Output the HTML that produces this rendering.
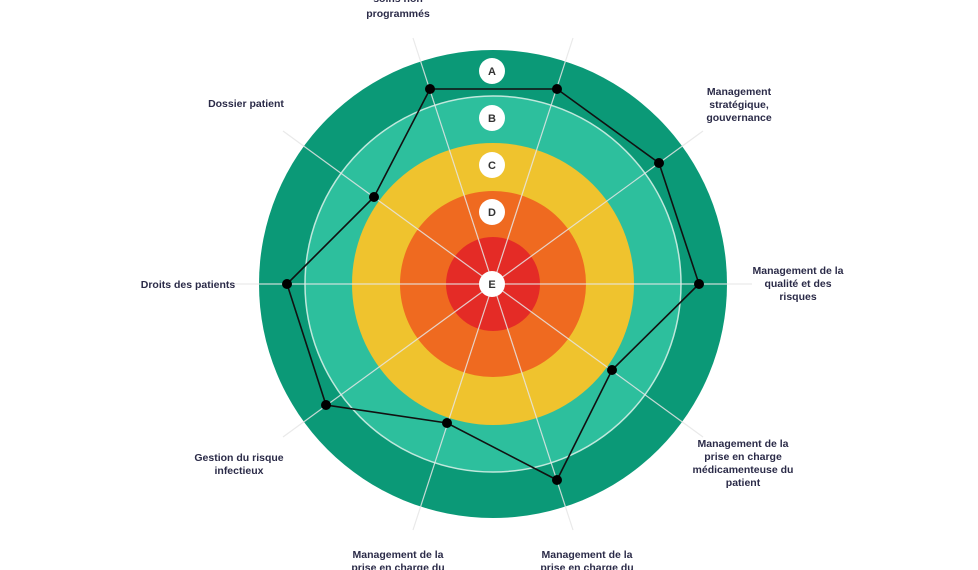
<!DOCTYPE html>
<html><head><meta charset="utf-8"><style>
body{margin:0;background:#fff}
svg{display:block}
text{font-family:"Liberation Sans",sans-serif;font-size:10.5px;fill:#2b2b48;font-weight:bold}
.l{font-size:11px;fill:#333}
</style></head><body>
<svg width="978" height="570" viewBox="0 0 978 570">
<circle cx="493" cy="284" r="234" fill="#0b9977"/>
<circle cx="493" cy="284" r="188" fill="#2dbf9d" stroke="#bfe8dc" stroke-width="1.5"/>
<circle cx="493" cy="284" r="141" fill="#efc32e"/>
<circle cx="493" cy="284" r="93" fill="#ef6a20"/>
<circle cx="493" cy="284" r="47" fill="#e42b26"/>
<g stroke="#e6e6e6" stroke-width="1.2" opacity="0.85">
<line x1="493" y1="284" x2="413" y2="38"/>
<line x1="493" y1="284" x2="573" y2="38"/>
<line x1="493" y1="284" x2="703" y2="131"/>
<line x1="493" y1="284" x2="752" y2="284"/>
<line x1="493" y1="284" x2="703" y2="437"/>
<line x1="493" y1="284" x2="573" y2="530"/>
<line x1="493" y1="284" x2="413" y2="530"/>
<line x1="493" y1="284" x2="283" y2="437"/>
<line x1="493" y1="284" x2="234" y2="284"/>
<line x1="493" y1="284" x2="283" y2="131"/>
</g>
<polygon points="430,89 557,89 659,163 699,284 612,370 557,480 447,423 326,405 287,284 374,197" fill="none" stroke="#111" stroke-width="1.6"/>
<g fill="#000">
<circle cx="430" cy="89" r="5"/><circle cx="557" cy="89" r="5"/><circle cx="659" cy="163" r="5"/><circle cx="699" cy="284" r="5"/><circle cx="612" cy="370" r="5"/><circle cx="557" cy="480" r="5"/><circle cx="447" cy="423" r="5"/><circle cx="326" cy="405" r="5"/><circle cx="287" cy="284" r="5"/><circle cx="374" cy="197" r="5"/>
</g>
<g fill="#fff">
<circle cx="492" cy="71" r="13"/><circle cx="492" cy="118" r="13"/><circle cx="492" cy="165" r="13"/><circle cx="492" cy="212" r="13"/><circle cx="492" cy="284" r="13"/>
</g>
<g text-anchor="middle">
<text class="l" x="492" y="75">A</text><text class="l" x="492" y="122">B</text><text class="l" x="492" y="169">C</text><text class="l" x="492" y="216">D</text><text class="l" x="492" y="288">E</text>
<text x="398" y="2">soins non</text><text x="398" y="17">programmés</text>
<text x="246" y="107">Dossier patient</text>
<text x="739" y="95">Management</text><text x="739" y="108">stratégique,</text><text x="739" y="121">gouvernance</text>
<text x="798" y="274">Management de la</text><text x="798" y="287">qualité et des</text><text x="798" y="300">risques</text>
<text x="188" y="288">Droits des patients</text>
<text x="743" y="447">Management de la</text><text x="743" y="460">prise en charge</text><text x="743" y="473">médicamenteuse du</text><text x="743" y="486">patient</text>
<text x="239" y="461">Gestion du risque</text><text x="239" y="474">infectieux</text>
<text x="398" y="558">Management de la</text><text x="398" y="571">prise en charge du</text>
<text x="587" y="558">Management de la</text><text x="587" y="571">prise en charge du</text>
</g>
</svg>
</body></html>
